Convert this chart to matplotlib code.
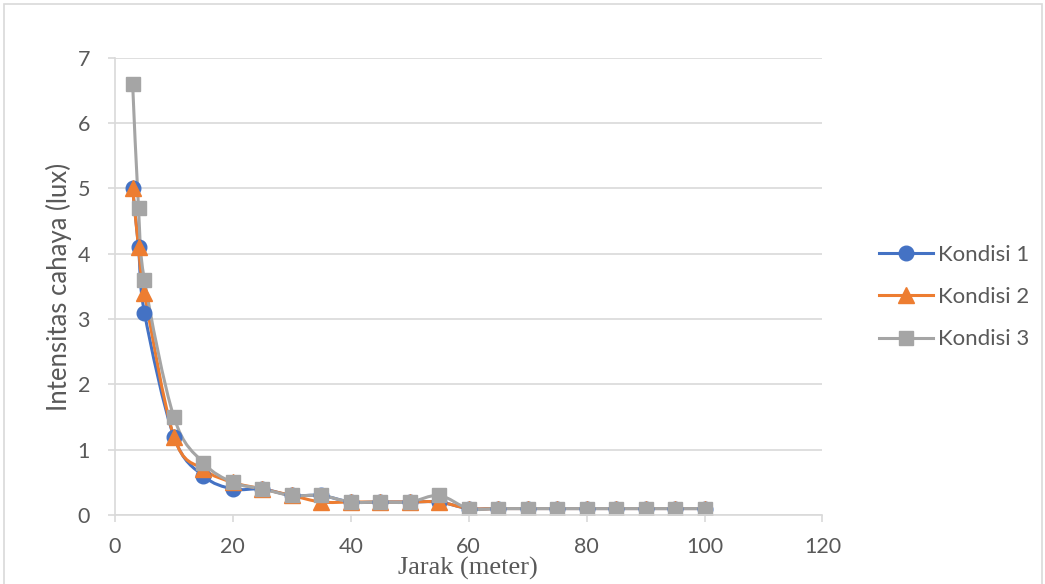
import numpy as np
import matplotlib
matplotlib.use("Agg")
import matplotlib.pyplot as plt
from matplotlib.path import Path
from matplotlib.patches import PathPatch, Rectangle
from matplotlib.lines import Line2D

# Data
jarak = [3, 4, 5, 10, 15, 20, 25, 30, 35, 40, 45, 50, 55, 60, 65, 70, 75, 80, 85, 90, 95, 100]
kondisi_1 = [5.0, 4.1, 3.1, 1.2, 0.6, 0.4, 0.4, 0.3, 0.3, 0.2, 0.2, 0.2, 0.2, 0.1, 0.1, 0.1, 0.1, 0.1, 0.1, 0.1, 0.1, 0.1]
kondisi_2 = [5.0, 4.1, 3.4, 1.2, 0.7, 0.5, 0.4, 0.3, 0.2, 0.2, 0.2, 0.2, 0.2, 0.1, 0.1, 0.1, 0.1, 0.1, 0.1, 0.1, 0.1, 0.1]
kondisi_3 = [6.6, 4.7, 3.6, 1.5, 0.8, 0.5, 0.4, 0.3, 0.3, 0.2, 0.2, 0.2, 0.3, 0.1, 0.1, 0.1, 0.1, 0.1, 0.1, 0.1, 0.1, 0.1]
labels = ["Kondisi 1", "Kondisi 2", "Kondisi 3"]

colors = ["#4472C4", "#ED7D31", "#A5A5A5"]
markers = ["o", "^", "s"]
grid_col = "#D9D9D9"
text_col = "#595959"


def smooth_path(x, y):
    # Bezier path through the points, like Excel's "smoothed line"
    p = np.column_stack([x, y]).astype(float)
    n = len(p)
    verts = [p[0]]
    codes = [Path.MOVETO]
    for i in range(n - 1):
        p0 = p[i - 1] if i > 0 else p[i]
        p3 = p[i + 2] if i + 2 < n else p[i + 1]
        c1 = p[i] + (p[i + 1] - p0) / 6
        c2 = p[i + 1] - (p3 - p[i]) / 6
        verts += [c1, c2, p[i + 1]]
        codes += [Path.CURVE4] * 3
    return Path(verts, codes)


fig = plt.figure(figsize=(10.45, 5.84), dpi=100)
fig.patches.append(Rectangle((0.004, -0.01), 0.993, 1.003, transform=fig.transFigure,
                             fill=False, edgecolor=grid_col, linewidth=1.2))
ax = fig.add_axes([0.110, 0.118, 0.677, 0.783])

msize = {"o": 10.5, "^": 11, "s": 10}
for ys, c, m in zip([kondisi_1, kondisi_2, kondisi_3], colors, markers):
    ax.add_patch(PathPatch(smooth_path(jarak, ys), facecolor="none", edgecolor=c,
                           linewidth=2.2, capstyle="round", joinstyle="round"))
    ax.plot(jarak, ys, linestyle="none", marker=m, color=c, markersize=msize[m])

ax.set_xlim(0, 120)
ax.set_ylim(0, 7)
ax.set_xticks(np.arange(0, 121, 20))
ax.set_yticks(np.arange(0, 8, 1))
ax.grid(axis="y", color=grid_col, linewidth=1.2)
ax.set_axisbelow(True)
for s in ["top", "right"]:
    ax.spines[s].set_visible(False)
for s in ["left", "bottom"]:
    ax.spines[s].set_color(grid_col)
    ax.spines[s].set_linewidth(1.2)
ax.tick_params(colors=grid_col, length=5, width=1.2, labelcolor=text_col, labelsize=15.5)
ax.tick_params(axis="x", pad=11)
ax.tick_params(axis="y", pad=13)
for t in ax.get_xticklabels() + ax.get_yticklabels():
    t.set_family("Lato")

fig.text(0.0565, 0.509, "Intensitas cahaya (lux)", rotation=90, ha="center", va="center",
         rotation_mode="anchor", fontsize=18.5, color=text_col, family="Lato")
fig.text(0.448, 0.027, "Jarak (meter)", ha="center", va="center",
         fontsize=19, color=text_col, family="Liberation Serif")

handles = [Line2D([], [], color=c, marker=m, linewidth=2.2, markersize=msize[m])
           for c, m in zip(colors, markers)]
leg = fig.legend(handles, labels, loc="center left", bbox_to_anchor=(0.841, 0.491), frameon=False,
                 labelspacing=1.0, handlelength=2.45, handletextpad=0.2, borderpad=0,
                 borderaxespad=0, prop={"family": "Lato", "size": 16})
for t in leg.get_texts():
    t.set_color(text_col)

fig.savefig("out.png", dpi=100)
